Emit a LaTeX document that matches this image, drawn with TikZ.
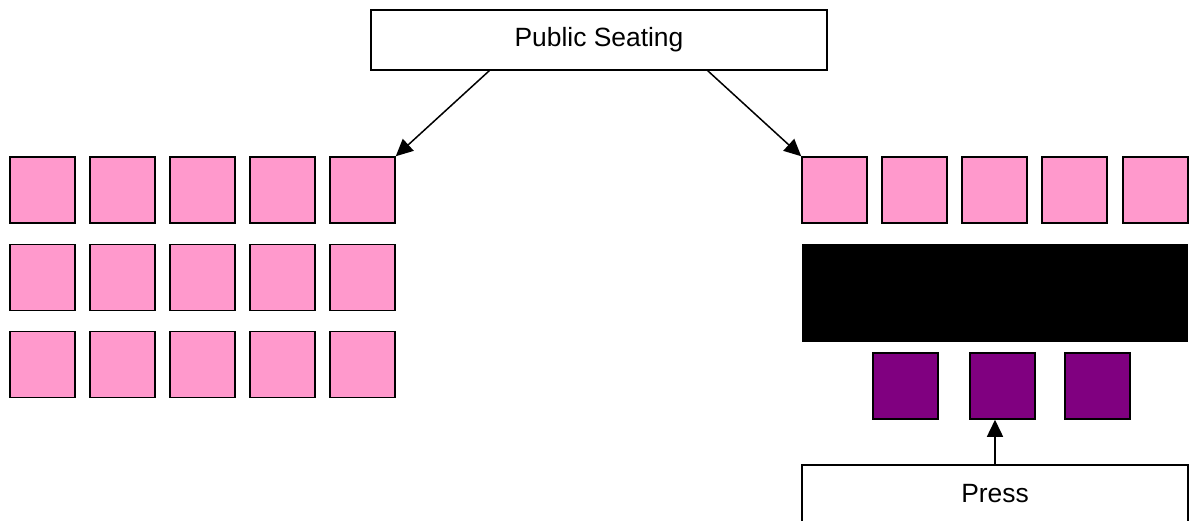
\documentclass[tikz,border=0pt]{standalone}
\usepackage{fontspec}
\setmainfont{Liberation Sans}
\usetikzlibrary{arrows.meta}
\definecolor{seatpink}{HTML}{FF99CC}
\definecolor{presspurple}{HTML}{800080}
\tikzset{
  seat/.style={draw, line width=0.75pt, fill=seatpink, minimum width=32.5pt, minimum height=33pt, inner sep=0pt},
  pressseat/.style={seat, fill=presspurple},
  label box/.style={draw, line width=0.75pt, fill=white, inner sep=0pt, font=\fontsize{13.2}{16}\selectfont},
  pointer/.style={-{Triangle[length=8.5pt,width=8pt]}, line width=0.75pt}
}
\begin{document}
\begin{tikzpicture}[x=0.5pt, y=-0.5pt]
      \useasboundingbox (0,0) rectangle (1189,520);
      \draw
        (599,40) node[label box, minimum width=228pt, minimum height=30pt] (pub){Public Seating}
        (995,494) node[label box, minimum width=193pt, minimum height=29pt] (press){Press};
      % public seating, left block
      \draw
        (42.5,190) node[seat] (l11){}
        (122.5,190) node[seat] (l12){}
        (202.5,190) node[seat] (l13){}
        (282.5,190) node[seat] (l14){}
        (362.5,190) node[seat] (l15){}
        (42.5,277.5) node[seat] (l21){}
        (122.5,277.5) node[seat] (l22){}
        (202.5,277.5) node[seat] (l23){}
        (282.5,277.5) node[seat] (l24){}
        (362.5,277.5) node[seat] (l25){}
        (42.5,364.5) node[seat] (l31){}
        (122.5,364.5) node[seat] (l32){}
        (202.5,364.5) node[seat] (l33){}
        (282.5,364.5) node[seat] (l34){}
        (362.5,364.5) node[seat] (l35){};
      % public seating, right row
      \draw
        (834.5,190) node[seat] (r1){}
        (914.5,190) node[seat] (r2){}
        (994.5,190) node[seat] (r3){}
        (1074.5,190) node[seat] (r4){}
        (1155.5,190) node[seat] (r5){};
      % table and press seats
      \draw
        (995,293) node[fill=black, minimum width=193pt, minimum height=49pt, inner sep=0pt] (table){}
        (905.5,386) node[pressseat] (p1){}
        (1002.5,386) node[pressseat] (p2){}
        (1097.5,386) node[pressseat] (p3){};
      \begin{scope}[pointer]
        \draw (pub.south west) ++(119,0) -- (l15.north east);
        \draw (pub.south east) ++(-120,0) -- (r1.north west);
        \draw (press.north) -- (press.north |- p2.south);
      \end{scope}
    \end{tikzpicture}
\end{document}
